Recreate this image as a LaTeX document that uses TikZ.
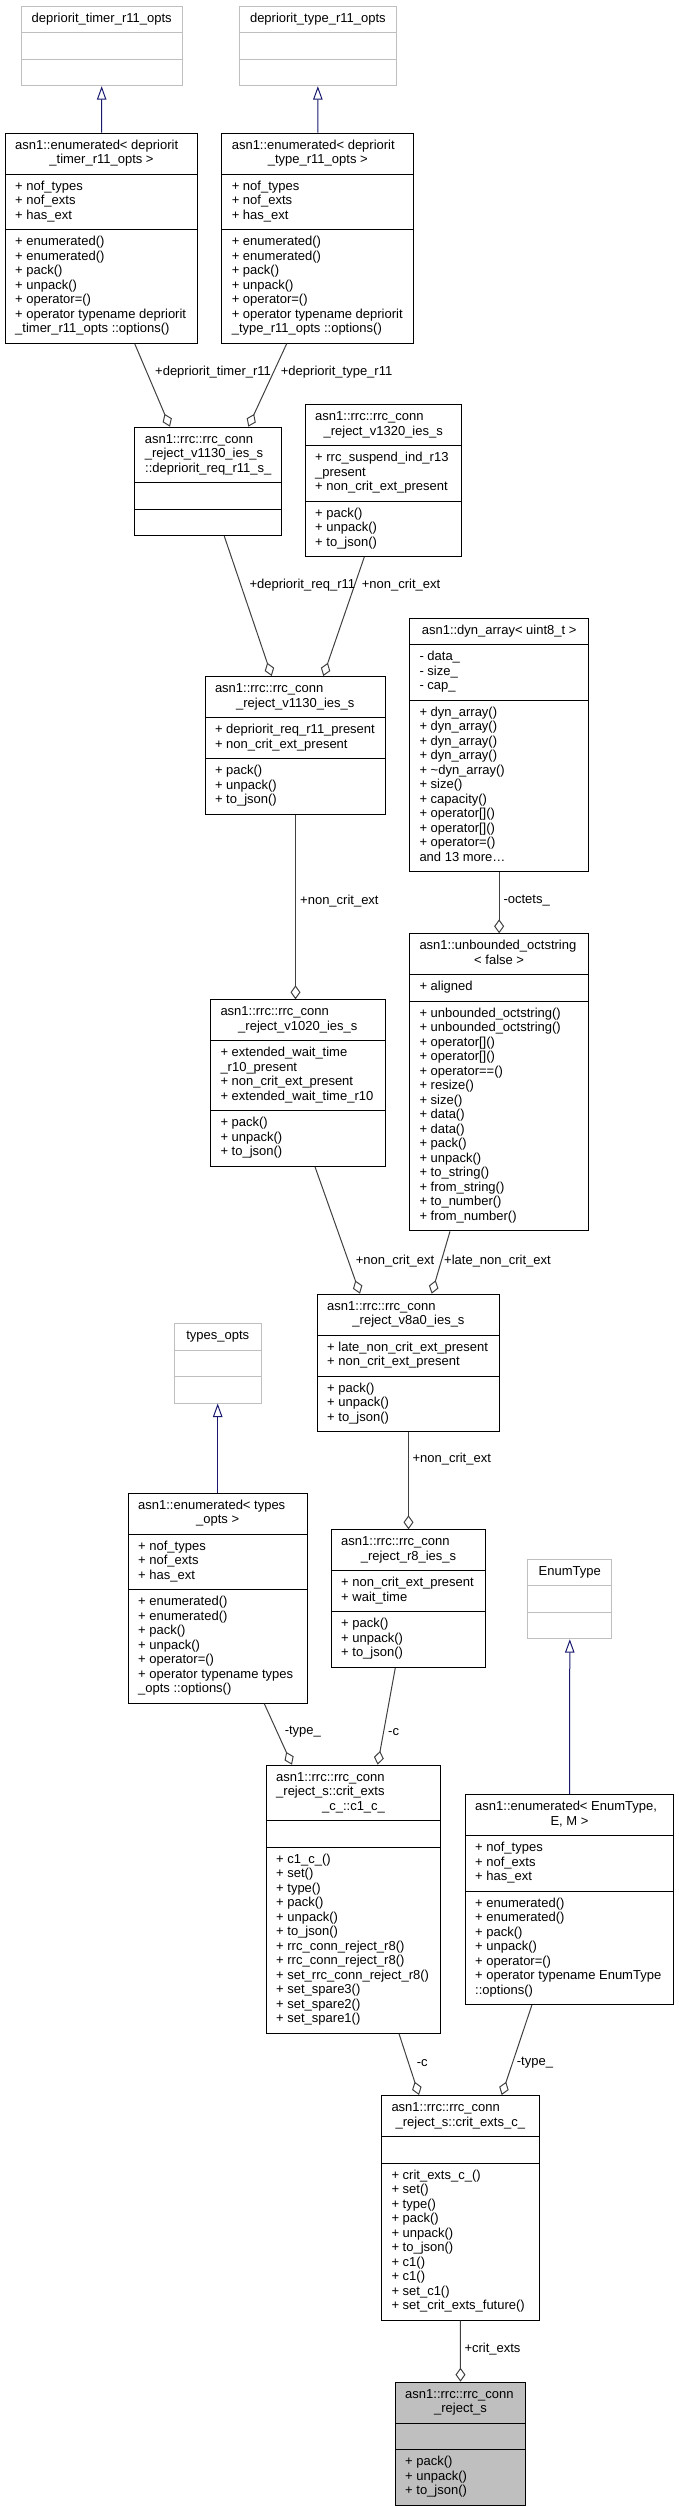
\documentclass[tikz,border=0pt]{standalone}
\usepackage{fontspec}
\setmainfont{Liberation Sans}
\usetikzlibrary{shapes.multipart,arrows.meta}

\definecolor{edgegray}{HTML}{404040}
\definecolor{optsgray}{HTML}{BFBFBF}
\definecolor{inhblue}{HTML}{191970}

% title: earlier lines left, last line centred in width #1
\newcommand{\ttl}[3]{\begin{tabular}{@{}l@{}}#2\makebox[#1]{#3}\end{tabular}}
\newcommand{\mbr}[1]{\begin{tabular}{@{}l@{}}#1\end{tabular}}

\begin{document}
\begin{tikzpicture}[x=1pt,y=-1pt,
  cls/.style={draw=black, line width=1pt, rectangle split, rectangle split parts=3,
    rectangle split part align=left, anchor=north west, inner xsep=10pt, inner ysep=5.5pt,
    font=\fontsize{13}{14.5}\selectfont},
  optscls/.style={cls, draw=optsgray},
  rootcls/.style={cls, fill=optsgray},
  aggr/.style={draw=edgegray, line width=1pt, -{Diamond[open,length=14pt,width=10pt]}},
  inh/.style={draw=inhblue, line width=1pt, -{Triangle[open,length=13.5pt,width=9.5pt]}},
  lbl/.style={anchor=west, inner sep=0pt, font=\fontsize{13}{14.5}\selectfont}]
\useasboundingbox (0,0) rectangle (679,2508);

% top row
\node[optscls, minimum width=161pt] (timerOpts) at (20.7,5.7) {\ttl{141pt}{}{depriorit\_timer\_r11\_opts}\nodepart{second}\strut\nodepart{third}\strut};
\node[optscls, minimum width=157.3pt] (typeOpts) at (238.7,5.7) {\ttl{137.3pt}{}{depriorit\_type\_r11\_opts}\nodepart{second}\strut\nodepart{third}\strut};
\node[cls, minimum width=192.6pt] (enumTimer) at (4.7,132.7) {\ttl{172.6pt}{asn1::enumerated< depriorit\\}{\_timer\_r11\_opts >}
  \nodepart{second}\mbr{+ nof\_types\\+ nof\_exts\\+ has\_ext}
  \nodepart{third}\mbr{+ enumerated()\\+ enumerated()\\+ pack()\\+ unpack()\\+ operator=()\\+ operator typename depriorit\\\_timer\_r11\_opts ::options()}};
\node[cls, minimum width=192pt] (enumType) at (221.3,132.7) {\ttl{172pt}{asn1::enumerated< depriorit\\}{\_type\_r11\_opts >}
  \nodepart{second}\mbr{+ nof\_types\\+ nof\_exts\\+ has\_ext}
  \nodepart{third}\mbr{+ enumerated()\\+ enumerated()\\+ pack()\\+ unpack()\\+ operator=()\\+ operator typename depriorit\\\_type\_r11\_opts ::options()}};

\node[cls, minimum width=147pt] (deprReq) at (134.3,426.7) {\ttl{127pt}{asn1::rrc::rrc\_conn\\\_reject\_v1130\_ies\_s\\}{::depriorit\_req\_r11\_s\_}\nodepart{second}\strut\nodepart{third}\strut};
\node[cls, minimum width=156pt] (v1320) at (304.7,404) {\ttl{136pt}{asn1::rrc::rrc\_conn\\}{\_reject\_v1320\_ies\_s}
  \nodepart{second}\mbr{+ rrc\_suspend\_ind\_r13\\\_present\\+ non\_crit\_ext\_present}
  \nodepart{third}\mbr{+ pack()\\+ unpack()\\+ to\_json()}};
\node[cls, minimum width=180.5pt] (v1130) at (204.5,676) {\ttl{160.5pt}{asn1::rrc::rrc\_conn\\}{\_reject\_v1130\_ies\_s}
  \nodepart{second}\mbr{+ depriorit\_req\_r11\_present\\+ non\_crit\_ext\_present}
  \nodepart{third}\mbr{+ pack()\\+ unpack()\\+ to\_json()}};
\node[cls, minimum width=179.3pt] (dynArr) at (409,617.7) {\ttl{159.3pt}{}{asn1::dyn\_array< uint8\_t >}
  \nodepart{second}\mbr{- data\_\\- size\_\\- cap\_}
  \nodepart{third}\mbr{+ dyn\_array()\\+ dyn\_array()\\+ dyn\_array()\\+ dyn\_array()\\+ \textasciitilde dyn\_array()\\+ size()\\+ capacity()\\+ operator[]()\\+ operator[]()\\+ operator=()\\and 13 more\ldots}};
\node[cls, minimum width=174.7pt] (v1020) at (210,999.3) {\ttl{154.7pt}{asn1::rrc::rrc\_conn\\}{\_reject\_v1020\_ies\_s}
  \nodepart{second}\mbr{+ extended\_wait\_time\\\_r10\_present\\+ non\_crit\_ext\_present\\+ extended\_wait\_time\_r10}
  \nodepart{third}\mbr{+ pack()\\+ unpack()\\+ to\_json()}};
\node[cls, minimum width=179.3pt] (octStr) at (409,933.3) {\ttl{159.3pt}{asn1::unbounded\_octstring\\}{< false >}
  \nodepart{second}\mbr{+ aligned}
  \nodepart{third}\mbr{+ unbounded\_octstring()\\+ unbounded\_octstring()\\+ operator[]()\\+ operator[]()\\+ operator==()\\+ resize()\\+ size()\\+ data()\\+ data()\\+ pack()\\+ unpack()\\+ to\_string()\\+ from\_string()\\+ to\_number()\\+ from\_number()}};
\node[cls, minimum width=182.6pt] (v8a0) at (316.7,1293.7) {\ttl{162.6pt}{asn1::rrc::rrc\_conn\\}{\_reject\_v8a0\_ies\_s}
  \nodepart{second}\mbr{+ late\_non\_crit\_ext\_present\\+ non\_crit\_ext\_present}
  \nodepart{third}\mbr{+ pack()\\+ unpack()\\+ to\_json()}};

\node[optscls, minimum width=87pt] (typesOpts) at (173.7,1323) {\ttl{67pt}{}{types\_opts}\nodepart{second}\strut\nodepart{third}\strut};
\node[cls, minimum width=179pt] (enumTypes) at (127.7,1492.7) {\ttl{159pt}{asn1::enumerated< types\\}{\_opts >}
  \nodepart{second}\mbr{+ nof\_types\\+ nof\_exts\\+ has\_ext}
  \nodepart{third}\mbr{+ enumerated()\\+ enumerated()\\+ pack()\\+ unpack()\\+ operator=()\\+ operator typename types\\\_opts ::options()}};
\node[cls, minimum width=154.6pt] (r8) at (330.7,1529.3) {\ttl{134.6pt}{asn1::rrc::rrc\_conn\\}{\_reject\_r8\_ies\_s}
  \nodepart{second}\mbr{+ non\_crit\_ext\_present\\+ wait\_time}
  \nodepart{third}\mbr{+ pack()\\+ unpack()\\+ to\_json()}};
\node[cls, minimum width=174.6pt] (c1) at (265.7,1764.7) {\ttl{154.6pt}{asn1::rrc::rrc\_conn\\\_reject\_s::crit\_exts\\}{\_c\_::c1\_c\_}
  \nodepart{second}\strut
  \nodepart{third}\mbr{+ c1\_c\_()\\+ set()\\+ type()\\+ pack()\\+ unpack()\\+ to\_json()\\+ rrc\_conn\_reject\_r8()\\+ rrc\_conn\_reject\_r8()\\+ set\_rrc\_conn\_reject\_r8()\\+ set\_spare3()\\+ set\_spare2()\\+ set\_spare1()}};
\node[optscls, minimum width=84pt] (enumOpts) at (527.3,1558.7) {\ttl{64pt}{}{EnumType}\nodepart{second}\strut\nodepart{third}\strut};
\node[cls, minimum width=208.6pt] (enumEnum) at (464.7,1794) {\ttl{188.6pt}{asn1::enumerated< EnumType,\\}{E, M >}
  \nodepart{second}\mbr{+ nof\_types\\+ nof\_exts\\+ has\_ext}
  \nodepart{third}\mbr{+ enumerated()\\+ enumerated()\\+ pack()\\+ unpack()\\+ operator=()\\+ operator typename EnumType\\::options()}};
\node[cls, minimum width=157.7pt] (critExts) at (381,2095) {\ttl{137.7pt}{asn1::rrc::rrc\_conn\\}{\_reject\_s::crit\_exts\_c\_}
  \nodepart{second}\strut
  \nodepart{third}\mbr{+ crit\_exts\_c\_()\\+ set()\\+ type()\\+ pack()\\+ unpack()\\+ to\_json()\\+ c1()\\+ c1()\\+ set\_c1()\\+ set\_crit\_exts\_future()}};
\node[rootcls, minimum width=130.6pt] (connReject) at (394.7,2381.7) {\ttl{110.6pt}{asn1::rrc::rrc\_conn\\}{\_reject\_s}
  \nodepart{second}\strut
  \nodepart{third}\mbr{+ pack()\\+ unpack()\\+ to\_json()}};

% inheritance
\draw[inh] (enumTimer.north) -- (timerOpts.south);
\draw[inh] (enumType.north) -- (typeOpts.south);
\draw[inh] (enumTypes.north) -- (typesOpts.south);
\draw[inh] (enumEnum.north) -- (enumOpts.south);

% members
\draw[aggr] ([xshift=130pt]enumTimer.south west) -- ([xshift=35.7pt]deprReq.north west);
\draw[aggr] ([xshift=65.4pt]enumType.south west) -- ([xshift=114pt]deprReq.north west);
\draw[aggr] ([xshift=90pt]deprReq.south west) -- ([xshift=67.2pt]v1130.north west);
\draw[aggr] ([xshift=59.6pt]v1320.south west) -- ([xshift=118.8pt]v1130.north west);
\draw[aggr] ([xshift=91pt]v1130.south west) -- ([xshift=85.5pt]v1020.north west);
\draw[aggr] (dynArr.south) -- (octStr.north);
\draw[aggr] ([xshift=105pt]v1020.south west) -- ([xshift=43.3pt]v8a0.north west);
\draw[aggr] ([xshift=41pt]octStr.south west) -- ([xshift=115pt]v8a0.north west);
\draw[aggr] (v8a0.south) -- (r8.north);
\draw[aggr] ([xshift=136.6pt]enumTypes.south west) -- ([xshift=26.3pt]c1.north west);
\draw[aggr] ([xshift=64.6pt]r8.south west) -- ([xshift=111.9pt]c1.north west);
\draw[aggr] ([xshift=133.3pt]c1.south west) -- ([xshift=38pt]critExts.north west);
\draw[aggr] ([xshift=67.2pt]enumEnum.south west) -- ([xshift=120.7pt]critExts.north west);
\draw[aggr] (critExts.south) -- (connReject.north);

% edge labels
\node[lbl] (lTimer) at (155,371.7) {+depriorit\_timer\_r11};
\node[lbl] (lType) at (280.7,371.7) {+depriorit\_type\_r11};
\node[lbl] (lReq) at (249.3,585) {+depriorit\_req\_r11};
\node[lbl] (lExtA) at (361.7,585) {+non\_crit\_ext};
\node[lbl] (lExtB) at (300,900.7) {+non\_crit\_ext};
\node[lbl] (lOctets) at (503.3,900.7) {-octets\_};
\node[lbl] (lExtC) at (355.7,1260.7) {+non\_crit\_ext};
\node[lbl] (lLate) at (444,1260.7) {+late\_non\_crit\_ext};
\node[lbl] (lExtD) at (412.3,1459.3) {+non\_crit\_ext};
\node[lbl] (lTypeA) at (284.6,1731.7) {-type\_};
\node[lbl] (lCA) at (388,1731.7) {-c};
\node[lbl] (lCB) at (416.7,2062.7) {-c};
\node[lbl] (lTypeB) at (516.7,2062.7) {-type\_};
\node[lbl] (lCrit) at (464.3,2348.7) {+crit\_exts};
\end{tikzpicture}
\end{document}
